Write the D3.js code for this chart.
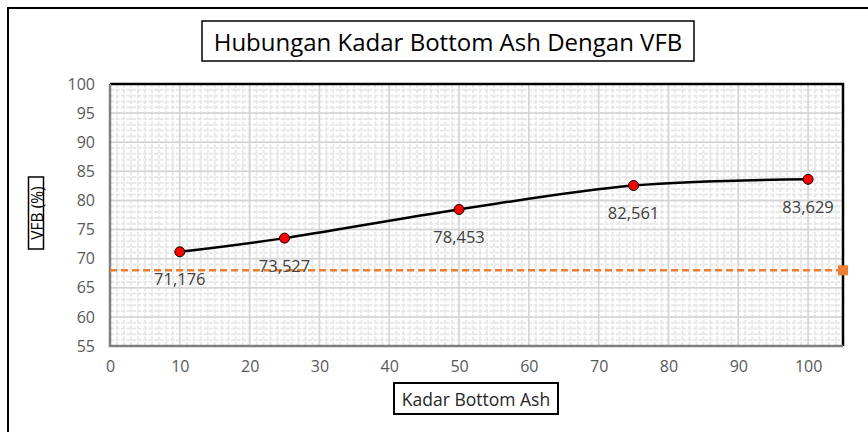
<!DOCTYPE html>
<html>
<head>
<meta charset="utf-8">
<script src="https://cdn.jsdelivr.net/npm/d3@7"></script>
<style>
  body { margin: 0; background: #fff; }
  text { font-family: "Open Sans", "Noto Sans", sans-serif; }
</style>
</head>
<body>
<div class="svg-container"></div>
<script>
// data
const kadar = [10, 25, 50, 75, 100];
const vfb = [71.176, 73.527, 78.453, 82.561, 83.629];
const vfbLabels = ["71,176", "73,527", "78,453", "82,561", "83,629"];
const batasX = [0, 105];
const batasY = [68, 68];
const xTicks = [0, 10, 20, 30, 40, 50, 60, 70, 80, 90, 100];
const yTicks = [55, 60, 65, 70, 75, 80, 85, 90, 95, 100];

const width = 868, height = 432;
const margin = {top: 84, right: 25, bottom: 86, left: 110};

const svg = d3.select(".svg-container").append("svg")
  .attr("width", width)
  .attr("height", height);

const xScale = d3.scaleLinear().domain([0, 105]).range([margin.left, width - margin.right]);
const yScale = d3.scaleLinear().domain([55, 100]).range([height - margin.bottom, margin.top]);

// outer chart border (cropped on right / bottom)
svg.append("path")
  .attr("d", `M8,${height} L8,8 L${width},8`)
  .style("fill", "none")
  .style("stroke", "#000")
  .style("stroke-width", 2);

// minor grid
const gMinor = svg.append("g");
gMinor.selectAll("line.vx")
  .data(d3.range(1, 105))
  .join("line")
  .attr("x1", d => xScale(d)).attr("x2", d => xScale(d))
  .attr("y1", yScale(55)).attr("y2", yScale(100))
  .style("stroke", "#e8e8e8").style("stroke-width", 2).style("stroke-dasharray", "4,1.5");
gMinor.selectAll("line.hy")
  .data(d3.range(56, 100))
  .join("line")
  .attr("y1", d => yScale(d)).attr("y2", d => yScale(d))
  .attr("x1", xScale(0)).attr("x2", xScale(105))
  .style("stroke", "#e8e8e8").style("stroke-width", 2).style("stroke-dasharray", "4,1.5");

// major grid
svg.append("g")
  .selectAll("line")
  .data(xTicks.slice(1))
  .join("line")
  .attr("x1", d => xScale(d)).attr("x2", d => xScale(d))
  .attr("y1", yScale(55)).attr("y2", yScale(100))
  .style("stroke", "#d4d4d4").style("stroke-width", 1.5);
svg.append("g")
  .selectAll("line")
  .data(yTicks.slice(1, -1))
  .join("line")
  .attr("y1", d => yScale(d)).attr("y2", d => yScale(d))
  .attr("x1", xScale(0)).attr("x2", xScale(105))
  .style("stroke", "#d4d4d4").style("stroke-width", 1.5);

// plot frame: top/right black, left/bottom gray axes
svg.append("path")
  .attr("d", `M${xScale(0)},${yScale(100)} L${xScale(105)},${yScale(100)} L${xScale(105)},${yScale(55)}`)
  .style("fill", "none").style("stroke", "#000").style("stroke-width", 2.5);
svg.append("path")
  .attr("d", `M${xScale(0)},${yScale(100)} L${xScale(0)},${yScale(55)} L${xScale(105)},${yScale(55)}`)
  .style("fill", "none").style("stroke", "#7f7f7f").style("stroke-width", 2.5);

// axes (labels only)
const xAxis = d3.axisBottom(xScale).tickValues(xTicks).tickSize(0).tickPadding(15);
const yAxis = d3.axisLeft(yScale).tickValues(yTicks).tickSize(0).tickPadding(15);

svg.append("g")
  .attr("transform", `translate(0,${yScale(55)})`)
  .call(xAxis)
  .call(g => g.select(".domain").remove())
  .selectAll("text")
  .style("font-family", "'Open Sans', sans-serif")
  .style("font-size", "16px")
  .style("fill", "#595959");

svg.append("g")
  .attr("transform", `translate(${xScale(0)},0)`)
  .call(yAxis)
  .call(g => g.select(".domain").remove())
  .selectAll("text")
  .style("font-family", "'Open Sans', sans-serif")
  .style("font-size", "16px")
  .style("fill", "#595959");

// threshold line
const batas = batasX.map((x, i) => ({x: x, y: batasY[i]}));
svg.append("path")
  .datum(batas)
  .attr("d", d3.line().x(d => xScale(d.x)).y(d => yScale(d.y)))
  .style("fill", "none")
  .style("stroke", "#ed7d31")
  .style("stroke-width", 2.5)
  .style("stroke-dasharray", "7,4");
svg.append("rect")
  .attr("x", xScale(batasX[1]) - 5)
  .attr("y", yScale(batasY[1]) - 5)
  .attr("width", 10).attr("height", 10)
  .style("fill", "#ed7d31");

// main series
const data = kadar.map((x, i) => ({x: x, y: vfb[i], label: vfbLabels[i]}));
const line = d3.line()
  .curve(d3.curveCatmullRom.alpha(0))
  .x(d => xScale(d.x))
  .y(d => yScale(d.y));

svg.append("path")
  .datum(data)
  .attr("d", line)
  .style("fill", "none")
  .style("stroke", "#000")
  .style("stroke-width", 2.5);

svg.selectAll("circle.pt")
  .data(data)
  .join("circle")
  .attr("class", "pt")
  .attr("cx", d => xScale(d.x))
  .attr("cy", d => yScale(d.y))
  .attr("r", 5)
  .style("fill", "#ff0000")
  .style("stroke", "#000")
  .style("stroke-width", 1);

svg.selectAll("text.lbl")
  .data(data)
  .join("text")
  .attr("class", "lbl")
  .attr("x", d => xScale(d.x))
  .attr("y", d => yScale(d.y) + 27)
  .attr("text-anchor", "middle")
  .attr("dominant-baseline", "central")
  .style("font-size", "16.5px")
  .style("fill", "#404040")
  .text(d => d.label);

// title box
svg.append("rect")
  .attr("x", 202).attr("y", 21).attr("width", 492).attr("height", 40)
  .style("fill", "#fff").style("stroke", "#000").style("stroke-width", 1.5);
svg.append("text")
  .attr("x", 448).attr("y", 41)
  .attr("text-anchor", "middle")
  .attr("dominant-baseline", "central")
  .style("font-size", "24px")
  .style("fill", "#000")
  .text("Hubungan Kadar Bottom Ash Dengan VFB");

// y title box
svg.append("rect")
  .attr("x", 28.5).attr("y", 177).attr("width", 15).attr("height", 72)
  .style("fill", "#fff").style("stroke", "#000").style("stroke-width", 1.5);
svg.append("text")
  .attr("transform", "translate(36.5,213) rotate(-90)")
  .attr("text-anchor", "middle")
  .attr("dominant-baseline", "central")
  .style("font-size", "15.5px")
  .style("fill", "#000")
  .text("VFB (%)");

// x title box
svg.append("rect")
  .attr("x", 394).attr("y", 383).attr("width", 164).attr("height", 31)
  .style("fill", "#fff").style("stroke", "#000").style("stroke-width", 2);
svg.append("text")
  .attr("x", 476).attr("y", 399)
  .attr("text-anchor", "middle")
  .attr("dominant-baseline", "central")
  .style("font-size", "17.5px")
  .style("fill", "#262626")
  .text("Kadar Bottom Ash");
</script>
</body>
</html>
